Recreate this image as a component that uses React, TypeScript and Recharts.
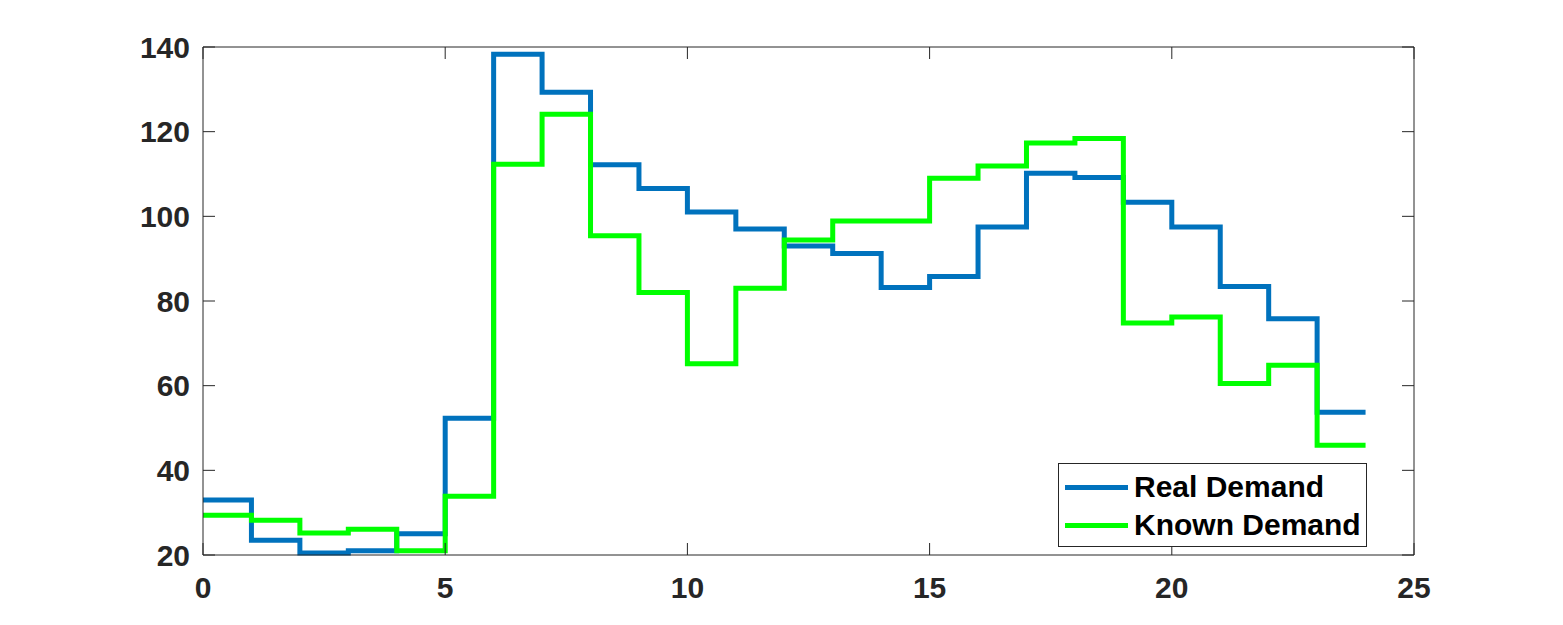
import { LineChart, Line, XAxis, YAxis } from "recharts";

// hour of day (last point repeats the final value so the step closes at 24)
const hours = [0, 1, 2, 3, 4, 5, 6, 7, 8, 9, 10, 11, 12, 13, 14, 15, 16, 17, 18, 19, 20, 21, 22, 23, 24];
const realDemand = [33, 23.5, 20.5, 21, 25, 52.3, 138.3, 129.3, 112.2, 106.6, 101, 97, 93, 91.2, 83.2, 85.8, 97.5, 110.2, 109.2, 103.3, 97.5, 83.4, 75.8, 53.7, 53.7];
const knownDemand = [29.4, 28.2, 25.2, 26.1, 21, 33.9, 112.3, 124.1, 95.4, 82, 65.2, 83, 94.4, 98.9, 98.9, 109, 111.9, 117.3, 118.4, 74.8, 76.2, 60.5, 64.8, 45.9, 45.9];
const xTicks = [0, 5, 10, 15, 20, 25];
const yTicks = [20, 40, 60, 80, 100, 120, 140];
const legendItems = [
  { label: "Real Demand", color: "#0072BD" },
  { label: "Known Demand", color: "#00FF00" },
];

const data = hours.map((h, i) => ({ h, real: realDemand[i], known: knownDemand[i] }));

const axisColor = "#262626";
const font = "'Liberation Sans', Arial, sans-serif";
const tickStyle = { fill: axisColor, fontSize: 30, fontWeight: 700, fontFamily: font };
const noLabel = () => <g />;

function LegendBox() {
  return (
    <div style={{
      position: "absolute", left: 1058, top: 463, width: 309, height: 84,
      border: "1px solid #262626", background: "#fff", boxSizing: "border-box", paddingTop: 4,
    }}>
      {legendItems.map((it) => (
        <div key={it.label} style={{ display: "flex", alignItems: "center", height: 38 }}>
          <div style={{ width: 63, height: 5, background: it.color, marginLeft: 6, marginRight: 6 }} />
          <span style={{ fontFamily: font, fontWeight: 700, fontSize: 30, color: "#000" }}>{it.label}</span>
        </div>
      ))}
    </div>
  );
}

export default function App() {
  return (
    <div style={{ position: "absolute", left: 0, top: 0, width: 1563, height: 625, background: "#fff" }}>
      <LineChart width={1563} height={625} data={data} margin={{ top: 46, right: 148, left: 0, bottom: 10 }}>
        <XAxis
          dataKey="h" type="number" domain={[0, 25]} ticks={xTicks}
          height={60} tickSize={-12} tickMargin={34}
          axisLine={{ stroke: axisColor }} tickLine={{ stroke: axisColor }} tick={tickStyle}
        />
        <XAxis
          xAxisId="top" dataKey="h" orientation="top" type="number" domain={[0, 25]} ticks={xTicks}
          height={1} tickSize={-12} axisLine={{ stroke: axisColor }} tickLine={{ stroke: axisColor }} tick={noLabel}
        />
        <YAxis
          type="number" domain={[20, 140]} ticks={yTicks} width={203}
          tickSize={-12} tickMargin={25}
          axisLine={{ stroke: axisColor }} tickLine={{ stroke: axisColor }} tick={tickStyle}
        />
        <YAxis
          yAxisId="right" orientation="right" type="number" domain={[20, 140]} ticks={yTicks}
          width={1} tickSize={-12} axisLine={{ stroke: axisColor }} tickLine={{ stroke: axisColor }} tick={noLabel}
        />
        {/* invisible series so the mirrored frame axes get drawn */}
        <Line xAxisId="top" yAxisId="right" dataKey="real" stroke="none" dot={false} isAnimationActive={false} />
        <Line type="stepAfter" dataKey="real" stroke="#0072BD" strokeWidth={5} dot={false} isAnimationActive={false} />
        <Line type="stepAfter" dataKey="known" stroke="#00FF00" strokeWidth={5} dot={false} isAnimationActive={false} />
      </LineChart>
      <LegendBox />
    </div>
  );
}
